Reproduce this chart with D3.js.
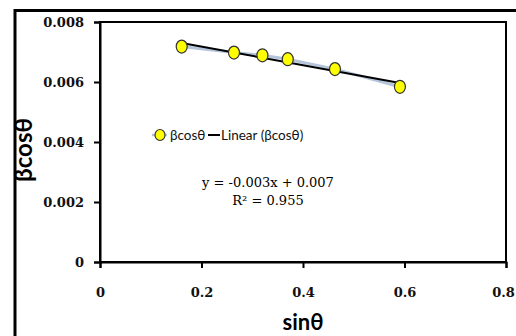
<!DOCTYPE html>
<html>
<head>
<meta charset="utf-8">
<script src="https://cdn.jsdelivr.net/npm/d3@7"></script>
<style>
    body { margin: 0; background: #fff; }
    svg { display: block; }
</style>
</head>
<body>
<svg width="516" height="336"></svg>
<script>
var sinTheta = [0.161, 0.264, 0.320, 0.370, 0.463, 0.591];
var betaCos = [0.00718, 0.00698, 0.00689, 0.00676, 0.00643, 0.00584];
var xTicks = [0, 0.2, 0.4, 0.6, 0.8];
var yTicks = [0, 0.002, 0.004, 0.006, 0.008];
var seriesName = "βcosθ";
var trendName = "Linear (βcosθ)";
var equationLines = ["y = -0.003x + 0.007", "R² = 0.955"];

var margin = { left: 100, top: 22, right: 10, bottom: 74 };
var width = 516 - margin.left - margin.right;
var height = 336 - margin.top - margin.bottom;

var x = d3.scaleLinear().domain([0, 0.8]).range([0, width]);
var y = d3.scaleLinear().domain([0, 0.008]).range([height, 0]);

function linearFit(xs, ys)
{
    var n = xs.length;
    var mx = d3.mean(xs), my = d3.mean(ys);
    var sxy = 0, sxx = 0;
    for (var i = 0; i < n; i++)
    {
        sxy += (xs[i] - mx) * (ys[i] - my);
        sxx += (xs[i] - mx) * (xs[i] - mx);
    }
    var slope = sxy / sxx;
    return { slope: slope, intercept: my - slope * mx };
}

function drawFrame(svg)
{
    // outer chart border, cut by the picture edge
    svg.append("path")
        .attr("d", "M15,340 L15,10.5 L520,10.5")
        .attr("fill", "none")
        .attr("stroke", "#000")
        .attr("stroke-width", 3);
}

function drawAxes(g)
{
    g.append("rect")
        .attr("width", width)
        .attr("height", height)
        .attr("fill", "none")
        .attr("stroke", "#000")
        .attr("stroke-width", 2);

    var xAxis = g.append("g")
        .attr("transform", "translate(0," + height + ")")
        .call(d3.axisBottom(x).tickValues(xTicks).tickSize(6).tickPadding(20)
            .tickFormat(function(d) { return d === 0 ? "0" : d3.format(".1f")(d); }));

    var yAxis = g.append("g")
        .call(d3.axisLeft(y).tickValues(yTicks).tickSize(6).tickPadding(10)
            .tickFormat(function(d) { return d === 0 ? "0" : d3.format(".3f")(d); }));

    [xAxis, yAxis].forEach(function(a)
    {
        a.select(".domain").attr("stroke", "#000").attr("stroke-width", 2);
        a.selectAll(".tick line").attr("stroke", "#000").attr("stroke-width", 2);
        a.selectAll(".tick text")
            .attr("fill", "#111")
            .style("font-family", "'DejaVu Serif', serif")
            .style("font-weight", "bold")
            .style("font-size", "13px");
    });

    // last label sits at the picture edge
    xAxis.selectAll(".tick text").filter(function(d) { return d === 0.8; }).attr("dx", -3);

    g.append("text")
        .attr("x", width / 2)
        .attr("y", height + 68)
        .attr("text-anchor", "middle")
        .style("font-family", "Lato, sans-serif")
        .style("font-weight", "bold")
        .style("font-size", "22px")
        .text("sinθ");

    g.append("text")
        .attr("transform", "translate(-68," + (height / 2 + 8) + ") rotate(-90)")
        .attr("text-anchor", "middle")
        .style("font-family", "Lato, sans-serif")
        .style("font-weight", "bold")
        .style("font-size", "24px")
        .text("βcosθ");
}

function drawSeries(g)
{
    var pts = sinTheta.map(function(d, i) { return [d, betaCos[i]]; });

    g.append("path")
        .datum(pts)
        .attr("fill", "none")
        .attr("stroke", "#b4c4da")
        .attr("stroke-width", 3)
        .attr("d", d3.line().x(function(d) { return x(d[0]); }).y(function(d) { return y(d[1]); }));

    var fit = linearFit(sinTheta, betaCos);
    var x0 = d3.min(sinTheta), x1 = d3.max(sinTheta);
    g.append("line")
        .attr("x1", x(x0)).attr("y1", y(fit.slope * x0 + fit.intercept))
        .attr("x2", x(x1)).attr("y2", y(fit.slope * x1 + fit.intercept))
        .attr("stroke", "#000")
        .attr("stroke-width", 2);

    g.selectAll("ellipse.point")
        .data(pts)
        .enter().append("ellipse")
        .attr("class", "point")
        .attr("cx", function(d) { return x(d[0]); })
        .attr("cy", function(d) { return y(d[1]); })
        .attr("rx", 5.5)
        .attr("ry", 6.5)
        .attr("fill", "#ffff00")
        .attr("stroke", "#333")
        .attr("stroke-width", 1.2);
}

function drawLegend(g)
{
    var ly = 113;
    var leg = g.append("g").style("font-family", "Lato, sans-serif").style("font-size", "13.5px");

    leg.append("line")
        .attr("x1", 52).attr("x2", 67).attr("y1", ly).attr("y2", ly)
        .attr("stroke", "#b4c4da").attr("stroke-width", 2.5);
    leg.append("ellipse")
        .attr("cx", 60).attr("cy", ly).attr("rx", 5).attr("ry", 5.5)
        .attr("fill", "#ffff00").attr("stroke", "#333").attr("stroke-width", 1.2);
    leg.append("text").attr("x", 70).attr("y", ly + 4.5).attr("fill", "#111").text(seriesName);

    leg.append("line")
        .attr("x1", 108).attr("x2", 120).attr("y1", ly).attr("y2", ly)
        .attr("stroke", "#000").attr("stroke-width", 2);
    leg.append("text").attr("x", 121).attr("y", ly + 4.5).attr("fill", "#111").text(trendName);

    g.selectAll("text.eq")
        .data(equationLines)
        .enter().append("text")
        .attr("class", "eq")
        .attr("x", 168)
        .attr("y", function(d, i) { return 165 + i * 18; })
        .attr("text-anchor", "middle")
        .attr("fill", "#000")
        .style("font-family", "'DejaVu Serif', serif")
        .style("font-size", "13px")
        .text(function(d) { return d; });
}

function setup()
{
    var svg = d3.select("svg");
    drawFrame(svg);
    var g = svg.append("g").attr("transform", "translate(" + margin.left + "," + margin.top + ")");
    drawAxes(g);
    drawSeries(g);
    drawLegend(g);
}

setup();
</script>
</body>
</html>
